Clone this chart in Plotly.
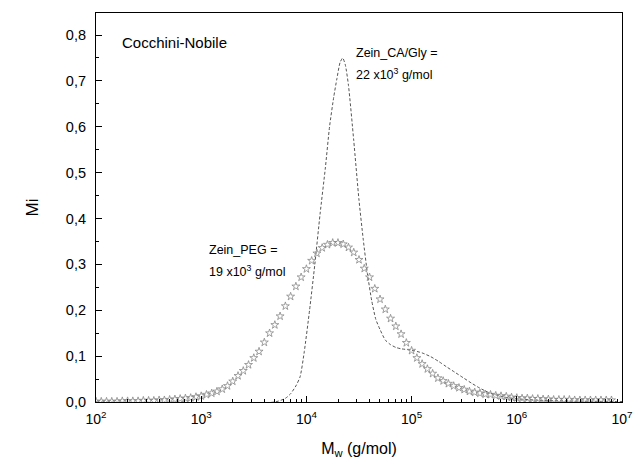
import plotly.graph_objects as go

# ---- data ----
# Zein_PEG (stars): log10(M) sampling positions and Mi values
peg_logm = [2.00, 2.05, 2.10, 2.15, 2.20, 2.25, 2.30, 2.35, 2.40, 2.45,
            2.50, 2.55, 2.60, 2.65, 2.70, 2.75, 2.80, 2.85, 2.90, 2.95,
            3.00, 3.05, 3.10, 3.15, 3.20, 3.25, 3.30, 3.35, 3.40, 3.45,
            3.50, 3.55, 3.60, 3.65, 3.70, 3.75, 3.80, 3.85, 3.90, 3.95,
            4.00, 4.05, 4.10, 4.15, 4.20, 4.25, 4.30, 4.35, 4.40, 4.45,
            4.50, 4.55, 4.60, 4.65, 4.70, 4.75, 4.80, 4.85, 4.90, 4.95,
            5.00, 5.05, 5.10, 5.15, 5.20, 5.25, 5.30, 5.35, 5.40, 5.45,
            5.50, 5.55, 5.60, 5.65, 5.70, 5.75, 5.80, 5.85, 5.90, 5.95,
            6.00, 6.05, 6.10, 6.15, 6.20, 6.25, 6.30, 6.35, 6.40, 6.45,
            6.50, 6.55, 6.60, 6.65, 6.70, 6.75, 6.80, 6.85, 6.90]
peg_mi = [0.001, 0.001, 0.001, 0.001, 0.001, 0.002, 0.002, 0.002, 0.002, 0.003,
          0.003, 0.003, 0.004, 0.004, 0.005, 0.006, 0.007, 0.008, 0.009, 0.011,
          0.013, 0.016, 0.019, 0.023, 0.028, 0.035, 0.045, 0.057, 0.068, 0.081,
          0.096, 0.110, 0.130, 0.150, 0.168, 0.187, 0.209, 0.230, 0.252, 0.272,
          0.290, 0.308, 0.324, 0.336, 0.343, 0.347, 0.347, 0.344, 0.337, 0.326,
          0.310, 0.291, 0.272, 0.247, 0.224, 0.202, 0.182, 0.165, 0.148, 0.129,
          0.112, 0.096, 0.083, 0.072, 0.062, 0.052, 0.046, 0.040, 0.035, 0.031,
          0.027, 0.023, 0.021, 0.019, 0.017, 0.016, 0.014, 0.013, 0.012, 0.010,
          0.009, 0.008, 0.008, 0.007, 0.007, 0.006, 0.006, 0.005, 0.005, 0.005,
          0.005, 0.004, 0.004, 0.004, 0.004, 0.004, 0.004, 0.004, 0.004]

# Zein_CA/Gly (dashed line)
cag_logm = [2.00, 3.70, 3.80, 3.85, 3.90, 3.94, 3.98, 4.03, 4.08, 4.13,
            4.18, 4.22, 4.26, 4.29, 4.32, 4.345, 4.37, 4.40, 4.45, 4.50,
            4.54, 4.58, 4.62, 4.66, 4.70, 4.75, 4.80, 4.85, 4.90, 5.00,
            5.10, 5.18, 5.26, 5.33, 5.41, 5.49, 5.57, 5.65, 5.73, 5.81,
            5.90, 6.00, 6.20, 6.50, 7.00]
cag_mi = [0.0, 0.0, 0.008, 0.018, 0.035, 0.055, 0.11, 0.20, 0.30, 0.41,
          0.51, 0.60, 0.665, 0.705, 0.74, 0.75, 0.735, 0.69, 0.57, 0.44,
          0.355, 0.28, 0.222, 0.18, 0.158, 0.135, 0.125, 0.119, 0.116, 0.113,
          0.107, 0.099, 0.088, 0.077, 0.065, 0.053, 0.041, 0.030, 0.021, 0.015,
          0.010, 0.007, 0.004, 0.002, 0.001]

x_tickvals = [1e2, 1e3, 1e4, 1e5, 1e6, 1e7]
x_ticktext = ["10<sup>2</sup>", "10<sup>3</sup>", "10<sup>4</sup>",
              "10<sup>5</sup>", "10<sup>6</sup>", "10<sup>7</sup>"]
y_tickvals = [0.0, 0.1, 0.2, 0.3, 0.4, 0.5, 0.6, 0.7, 0.8]
y_ticktext = ["0,0", "0,1", "0,2", "0,3", "0,4", "0,5", "0,6", "0,7", "0,8"]

FONT = "Liberation Sans, Arial, sans-serif"

fig = go.Figure()
fig.add_trace(go.Scatter(
    x=[10 ** v for v in cag_logm], y=cag_mi, mode="lines",
    line=dict(color="#555555", width=1, dash="3px,2px", shape="spline", smoothing=0.6),
    showlegend=False))
fig.add_trace(go.Scatter(
    x=[10 ** v for v in peg_logm], y=peg_mi, mode="markers",
    marker=dict(symbol="star-open", size=6, color="#888888", line=dict(width=0.8, color="#888888")),
    showlegend=False))

fig.update_layout(
    width=635, height=462,
    margin=dict(l=96, r=13, t=13, b=60),
    paper_bgcolor="white", plot_bgcolor="white",
    font=dict(family=FONT, color="black", size=14),
    xaxis=dict(
        type="log", range=[2, 7], automargin=False,
        tickvals=x_tickvals, ticktext=x_ticktext,
        ticks="inside", ticklen=6, tickwidth=1, tickcolor="black",
        minor=dict(ticks="inside", ticklen=3, tickcolor="black", dtick="D1", showgrid=False),
        showline=True, linecolor="black", linewidth=1.2, mirror=True,
        showgrid=False, zeroline=False,
        tickfont=dict(size=14, family=FONT),
        ticklabelstandoff=4,
        title=dict(text="M<sub>w</sub> (g/mol)", font=dict(size=16, family=FONT), standoff=16),
    ),
    yaxis=dict(
        range=[0, 0.848], automargin=False,
        tickvals=y_tickvals, ticktext=y_ticktext,
        ticks="inside", ticklen=6, tickwidth=1, tickcolor="black",
        minor=dict(ticks="inside", ticklen=3, tickcolor="black", dtick=0.05, tick0=0, showgrid=False),
        showline=True, linecolor="black", linewidth=1.2, mirror=True,
        showgrid=False, zeroline=False,
        tickfont=dict(size=14.5, family=FONT),
        ticklabelstandoff=6,
        title=dict(text="Mi", font=dict(size=17, family=FONT), standoff=22),
    ),
)

fig.add_annotation(text="Cocchini-Nobile", xref="paper", yref="paper",
                   x=0.045, y=0.925, xanchor="left", yanchor="middle",
                   showarrow=False, font=dict(size=15, family=FONT))
for txt, xv, yv in [("Zein_CA/Gly =", 4.452, 0.761),
                    ("22 x10<sup>3</sup> g/mol", 4.452, 0.715),
                    ("Zein_PEG =", 3.055, 0.331),
                    ("19 x10<sup>3</sup> g/mol", 3.055, 0.285)]:
    fig.add_annotation(text=txt, xref="x", yref="y", x=xv, y=yv,
                       xanchor="left", yanchor="middle", align="left",
                       showarrow=False, font=dict(size=12.5, family=FONT))

fig.write_html("out.html")
